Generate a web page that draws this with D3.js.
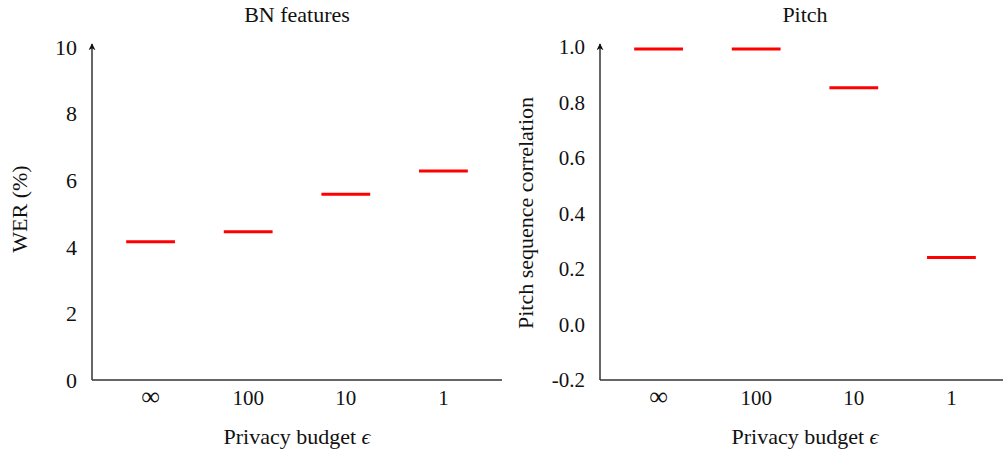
<!DOCTYPE html>
<html><head><meta charset="utf-8">
<script src="https://cdn.jsdelivr.net/npm/d3@7"></script>
<style>
body{margin:0;background:#fff;}
svg{display:block;}
text{font-family:"Liberation Serif","Times New Roman",serif;fill:#111;}
</style></head>
<body>
<svg id="c" width="1003" height="456"></svg>
<script>
const categories = ["∞", "100", "10", "1"];
const werValues = [4.15, 4.45, 5.58, 6.28];
const pitchValues = [0.993, 0.993, 0.853, 0.241];
const werTicks = [0, 2, 4, 6, 8, 10];
const pitchTicks = [-0.2, 0.0, 0.2, 0.4, 0.6, 0.8, 1.0];

const svg = d3.select("#c");
const defs = svg.append("defs");
defs.append("marker").attr("id","arr").attr("viewBox","0 0 10 10")
  .attr("refX",9).attr("refY",5).attr("markerWidth",7).attr("markerHeight",7)
  .attr("markerUnits","userSpaceOnUse").attr("orient","auto")
  .append("path").attr("d","M0,0 L10,5 L0,10 L3,5 Z").attr("fill","#111");

function panel(o){
  const g = svg.append("g");
  const x = d3.scaleLinear().domain([-0.6, 3.6]).range([o.left, o.left + 410]);
  const y = d3.scaleLinear().domain(o.domain).range([380, 47]);
  // axes lines
  g.append("line").attr("x1",o.left).attr("x2",o.left+410).attr("y1",380).attr("y2",380)
    .attr("stroke","#333").attr("stroke-width",1.5);
  g.append("line").attr("x1",o.left).attr("x2",o.left).attr("y1",380).attr("y2",44)
    .attr("stroke","#333").attr("stroke-width",1.5).attr("marker-end","url(#arr)");
  // y ticks
  g.selectAll(".yt").data(o.ticks).enter().append("text")
    .attr("x",o.left-15).attr("y",d=>y(d)).attr("dy","0.35em")
    .attr("text-anchor","end").style("font-size",o.tickSize+"px")
    .text(o.fmt);
  // x ticks
  g.selectAll(".xt").data(categories).enter().append("text")
    .attr("x",(d,i)=>x(i)).attr("y",405)
    .attr("text-anchor","middle").style("font-size",(d=>d==="∞"?"26px":"21px"))
    .text(d=>d);
  // marks
  g.selectAll(".m").data(o.values).enter().append("line")
    .attr("x1",(d,i)=>x(i-0.25)).attr("x2",(d,i)=>x(i+0.25))
    .attr("y1",d=>y(d)).attr("y2",d=>y(d))
    .attr("stroke","#ff0000").attr("stroke-width",3);
  // title
  g.append("text").attr("x",o.left+205).attr("y",22).attr("text-anchor","middle")
    .style("font-size","22px").text(o.title);
  // x label
  const xl = g.append("text").attr("x",o.left+205).attr("y",444).attr("text-anchor","middle")
    .style("font-size","22px");
  xl.append("tspan").text("Privacy budget ");
  xl.append("tspan").style("font-style","italic").text("ϵ");
  // y label
  g.append("text").attr("transform",`translate(${o.ylx},${o.lyc}) rotate(-90)`)
    .attr("text-anchor","middle").style("font-size","22px").text(o.ylabel);
}

panel({left:92, domain:[0,10], ticks:werTicks, fmt:d=>d3.format("d")(d), tickSize:22,
  values:werValues, title:"BN features", ylabel:"WER (%)", ylx:27, lyc:209});
panel({left:600, domain:[-0.2,1.0], ticks:pitchTicks, fmt:d=>d3.format(".1f")(d).replace("−","-"), tickSize:21,
  values:pitchValues, title:"Pitch", ylabel:"Pitch sequence correlation", ylx:533, lyc:213});
</script>
</body></html>
